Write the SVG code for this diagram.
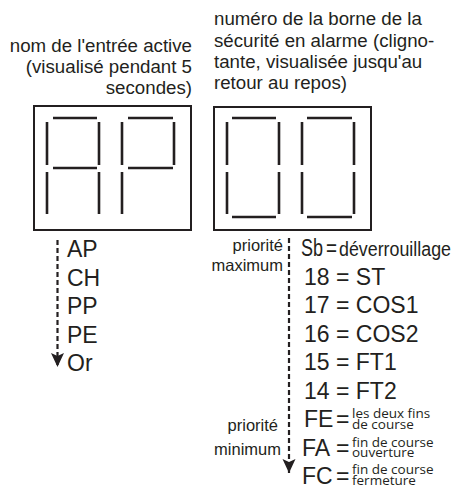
<svg xmlns="http://www.w3.org/2000/svg" width="461" height="494" viewBox="0 0 461 494">
<style>
text{font-family:"Liberation Sans",Arial,sans-serif;fill:#231f20}
.hd{font-size:18.7px}
.it{font-size:23px}
.dv{font-size:19.5px}
.pr{font-size:16.5px}
.sm{font-family:"Open Sans","Noto Sans",sans-serif;font-size:13.5px}
.box{fill:none;stroke:#231f20;stroke-width:2}
.seg{stroke:#231f20;stroke-width:2.6;fill:none}
.dash{stroke:#231f20;stroke-width:2.2;stroke-dasharray:5 3;fill:none}
</style>
<defs>
<marker id="ah" markerUnits="userSpaceOnUse" viewBox="0 -7 14 14" refX="14" refY="0" markerWidth="14" markerHeight="14" orient="auto">
<path d="M0,-6.5 L3,0 L0,6.5 L14,0 Z" fill="#231f20"/>
</marker>
</defs>
<g id="label-left">
<text class="hd" text-anchor="end" x="192" y="52">nom de l'entrée active</text>
<text class="hd" text-anchor="end" x="192" y="73">(visualisé pendant 5</text>
<text class="hd" text-anchor="end" x="192" y="94">secondes)</text>
</g>
<g id="label-right">
<text class="hd" x="214" y="25">numéro de la borne de la</text>
<text class="hd" x="214" y="46.5">sécurité en alarme (cligno-</text>
<text class="hd" x="214" y="68">tante, visualisée jusqu'au</text>
<text class="hd" x="214" y="89">retour au repos)</text>
</g>
<g id="display-left">
<rect class="box" x="34" y="106" width="157" height="124"/>
<path class="seg" d="M53,118H97M47,122V165M99,122V165M53,168H97M47,172V214M99,172V214"/>
<path class="seg" d="M128,118H173M122,122V165M174,122V165M128,168H173M122,172V214"/>
</g>
<g id="display-right">
<rect class="box" x="214" y="107" width="157" height="123"/>
<path class="seg" d="M232,118H276M227,122V165M279,122V165M227,172V214M279,172V214M232,217H276"/>
<path class="seg" d="M307,118H352M302,122V165M354,122V165M302,172V214M354,172V214M307,217H352"/>
</g>
<g id="connectors">
<line class="dash" x1="57.5" y1="240" x2="57.5" y2="367" marker-end="url(#ah)"/>
<line class="dash" x1="289" y1="238" x2="289" y2="473" marker-end="url(#ah)"/>
</g>
<g id="list-left">
<text class="it" x="67" y="257">AP</text>
<text class="it" x="67" y="285.5">CH</text>
<text class="it" x="67" y="314">PP</text>
<text class="it" x="67" y="342.5">PE</text>
<text class="it" x="67" y="371">Or</text>
</g>
<g id="priority">
<text class="pr" text-anchor="end" x="283" y="251">priorité</text>
<text class="pr" text-anchor="end" x="283" y="271">maximum</text>
<text class="pr" text-anchor="end" x="278" y="431">priorité</text>
<text class="pr" text-anchor="end" x="281" y="455">minimum</text>
</g>
<g id="list-right">
<text class="it" x="301" y="256" textLength="22" lengthAdjust="spacingAndGlyphs">Sb</text>
<text class="it" x="326" y="256" textLength="11" lengthAdjust="spacingAndGlyphs">=</text>
<text class="dv" x="339" y="256" textLength="112" lengthAdjust="spacingAndGlyphs">déverrouillage</text>
<text class="it" x="304" y="284.5">18 = ST</text>
<text class="it" x="304" y="313">17 = COS1</text>
<text class="it" x="304" y="341.5">16 = COS2</text>
<text class="it" x="304" y="370">15 = FT1</text>
<text class="it" x="304" y="398.5">14 = FT2</text>
<text class="it" x="304" y="427">FE</text>
<text class="it" x="336" y="427">=</text>
<text class="sm" x="352" y="418">les deux fins</text>
<text class="sm" x="352" y="428.5">de course</text>
<text class="it" x="302" y="455.5">FA</text>
<text class="it" x="336" y="455.5">=</text>
<text class="sm" x="352" y="446.5">fin de course</text>
<text class="sm" x="352" y="456.5">ouverture</text>
<text class="it" x="302" y="484">FC</text>
<text class="it" x="336" y="484">=</text>
<text class="sm" x="352" y="474">fin de course</text>
<text class="sm" x="352" y="484.5">fermeture</text>
</g>
</svg>
